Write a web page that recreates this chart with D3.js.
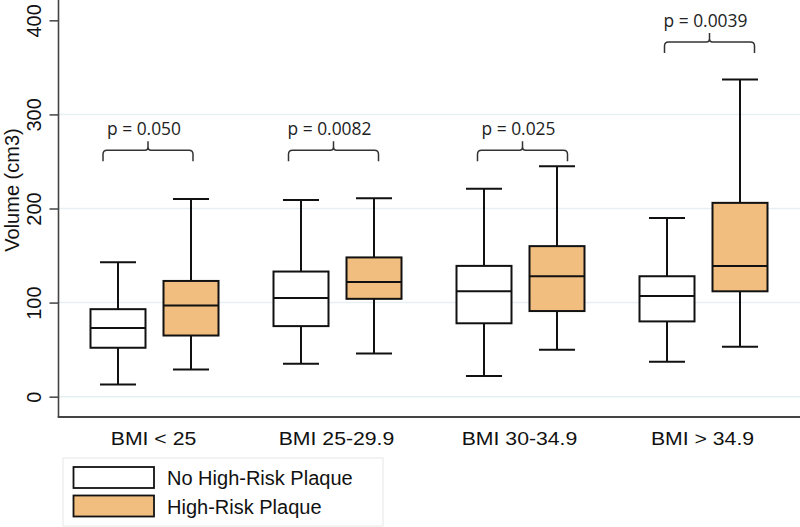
<!DOCTYPE html>
<html>
<head>
<meta charset="utf-8">
<script src="https://cdn.jsdelivr.net/npm/d3@7"></script>
<style>
  html, body { margin: 0; padding: 0; background: #fff; }
  svg { display: block; }
</style>
</head>
<body>
<svg id="chart" width="800" height="527"></svg>
<script>
// ---- data ----
const categories = ["BMI < 25", "BMI 25-29.9", "BMI 30-34.9", "BMI > 34.9"];
const series = ["No High-Risk Plaque", "High-Risk Plaque"];
// [min, q1, median, q3, max] per category
const noHRP = [
  [13, 52, 73, 93, 143],
  [35, 75, 105, 133, 209],
  [22, 78, 112, 139, 221],
  [37, 80, 107, 128, 190]
];
const HRP = [
  [29, 65, 97, 123, 210],
  [46, 104, 122, 148, 211],
  [50, 91, 128, 160, 245],
  [53, 112, 139, 206, 337]
];
const pValues = ["p = 0.050", "p = 0.0082", "p = 0.025", "p = 0.0039"];
const bracketLevel = [262, 262, 262, 377];
const yTicks = [0, 100, 200, 300, 400];
const gridTicks = [0, 100, 200, 300];

// ---- layout ----
const svg = d3.select("#chart");
const axisX = 58.5, axisBottom = 417;
const fillColors = { "No High-Risk Plaque": "#ffffff", "High-Risk Plaque": "#f1be80" };
const bracketShift = [-6.5, -4, 2, 6];

const y = d3.scaleLinear().domain([-21.6, 421.6]).range([axisBottom, 0]);
const x0 = d3.scaleBand().domain(categories).range([63, 795]);
const x1 = d3.scaleBand().domain(series).range([18.5, 164.5])
  .paddingInner(18 / 73).paddingOuter(9 / 73);

// gridlines
svg.append("g").selectAll("line").data(gridTicks).join("line")
  .attr("x1", axisX).attr("x2", 800)
  .attr("y1", d => y(d)).attr("y2", d => y(d))
  .attr("stroke", "#e6eff2").attr("stroke-width", 1.5);

// y axis
const yAxis = svg.append("g").attr("transform", `translate(${axisX},0)`)
  .call(d3.axisLeft(y).tickValues(yTicks).tickSize(9).tickSizeOuter(0));
yAxis.select(".domain").remove();
yAxis.selectAll(".tick line").attr("stroke", "#444").attr("stroke-width", 1.5);
yAxis.selectAll(".tick text")
  .attr("font-family", "Liberation Sans, Arial, sans-serif")
  .attr("font-size", 20).attr("fill", "#111")
  .attr("text-anchor", "middle")
  .attr("x", null).attr("dy", null)
  .attr("transform", "translate(-18,0) rotate(-90)")
  .attr("y", 0);

// axis lines
svg.append("line").attr("x1", axisX).attr("x2", axisX).attr("y1", 0).attr("y2", axisBottom)
  .attr("stroke", "#444").attr("stroke-width", 1.6);
svg.append("line").attr("x1", axisX - 0.8).attr("x2", 800).attr("y1", axisBottom).attr("y2", axisBottom)
  .attr("stroke", "#444").attr("stroke-width", 1.8);

// axis title
svg.append("text")
  .attr("transform", `translate(18.5,190) rotate(-90)`)
  .attr("text-anchor", "middle")
  .attr("font-family", "Liberation Sans, Arial, sans-serif")
  .attr("font-size", 20).attr("fill", "#111")
  .text("Volume (cm3)");

// category labels
svg.append("g").selectAll("text").data(categories).join("text")
  .attr("transform", d => `translate(${x0(d) + x0.bandwidth() / 2 - 1},445) scale(1.18,1)`)
  .attr("text-anchor", "middle")
  .attr("font-family", "Liberation Sans, Arial, sans-serif")
  .attr("font-size", 18).attr("fill", "#111")
  .text(d => d);

// boxes
const boxData = [];
categories.forEach((c, i) => {
  boxData.push({ cat: c, ser: series[0], v: noHRP[i] });
  boxData.push({ cat: c, ser: series[1], v: HRP[i] });
});
const bw = x1.bandwidth();
const capW = bw * 0.655;
const boxes = svg.append("g").selectAll("g").data(boxData).join("g")
  .attr("transform", d => `translate(${x0(d.cat) + x1(d.ser)},0)`);
const stroke = "#111", sw = 2;
// whiskers
boxes.append("line").attr("x1", bw / 2).attr("x2", bw / 2)
  .attr("y1", d => y(d.v[0])).attr("y2", d => y(d.v[1]))
  .attr("stroke", stroke).attr("stroke-width", sw);
boxes.append("line").attr("x1", bw / 2).attr("x2", bw / 2)
  .attr("y1", d => y(d.v[3])).attr("y2", d => y(d.v[4]))
  .attr("stroke", stroke).attr("stroke-width", sw);
// caps
boxes.append("line").attr("x1", bw / 2 - capW / 2).attr("x2", bw / 2 + capW / 2)
  .attr("y1", d => y(d.v[0])).attr("y2", d => y(d.v[0]))
  .attr("stroke", stroke).attr("stroke-width", sw);
boxes.append("line").attr("x1", bw / 2 - capW / 2).attr("x2", bw / 2 + capW / 2)
  .attr("y1", d => y(d.v[4])).attr("y2", d => y(d.v[4]))
  .attr("stroke", stroke).attr("stroke-width", sw);
// box
boxes.append("rect").attr("x", 0).attr("width", bw)
  .attr("y", d => y(d.v[3])).attr("height", d => y(d.v[1]) - y(d.v[3]))
  .attr("fill", d => fillColors[d.ser])
  .attr("stroke", stroke).attr("stroke-width", sw);
// median
boxes.append("line").attr("x1", 0).attr("x2", bw)
  .attr("y1", d => y(d.v[2])).attr("y2", d => y(d.v[2]))
  .attr("stroke", stroke).attr("stroke-width", sw);

// p-value brackets
const bHalf = 45;
const br = svg.append("g");
categories.forEach((c, i) => {
  const cx = x0(c) + x0.bandwidth() / 2 + bracketShift[i];
  const yb = y(bracketLevel[i]);
  const L = cx - bHalf, R = cx + bHalf;
  const p = `M${L},${yb + 11} L${L},${yb + 4} Q${L},${yb} ${L + 4},${yb} L${cx - 3},${yb} Q${cx},${yb} ${cx},${yb - 3} L${cx},${yb - 9}` +
            ` M${cx},${yb - 3} Q${cx},${yb} ${cx + 3},${yb} L${R - 4},${yb} Q${R},${yb} ${R},${yb + 4} L${R},${yb + 11}`;
  br.append("path").attr("d", p).attr("fill", "none")
    .attr("stroke", "#333").attr("stroke-width", 1.5);
  br.append("text")
    .attr("transform", `translate(${cx - 4},${yb - 15}) scale(0.94,1)`)
    .attr("text-anchor", "middle")
    .attr("font-family", "Open Sans, sans-serif")
    .attr("font-size", 18.5).attr("fill", "#222")
    .text(pValues[i]);
});

// legend
const lg = svg.append("g");
lg.append("rect").attr("x", 63).attr("y", 458).attr("width", 320).attr("height", 68)
  .attr("fill", "#fff").attr("stroke", "#e6e6e6").attr("stroke-width", 1);
series.forEach((s, i) => {
  lg.append("rect").attr("x", 73.5).attr("y", 467 + i * 28.5).attr("width", 80.5).attr("height", 21)
    .attr("fill", fillColors[s]).attr("stroke", stroke).attr("stroke-width", 1.8);
  lg.append("text").attr("x", 167).attr("y", 485 + i * 29)
    .attr("font-family", "Liberation Sans, Arial, sans-serif")
    .attr("font-size", 20).attr("fill", "#111")
    .text(s);
});
</script>
</body>
</html>
